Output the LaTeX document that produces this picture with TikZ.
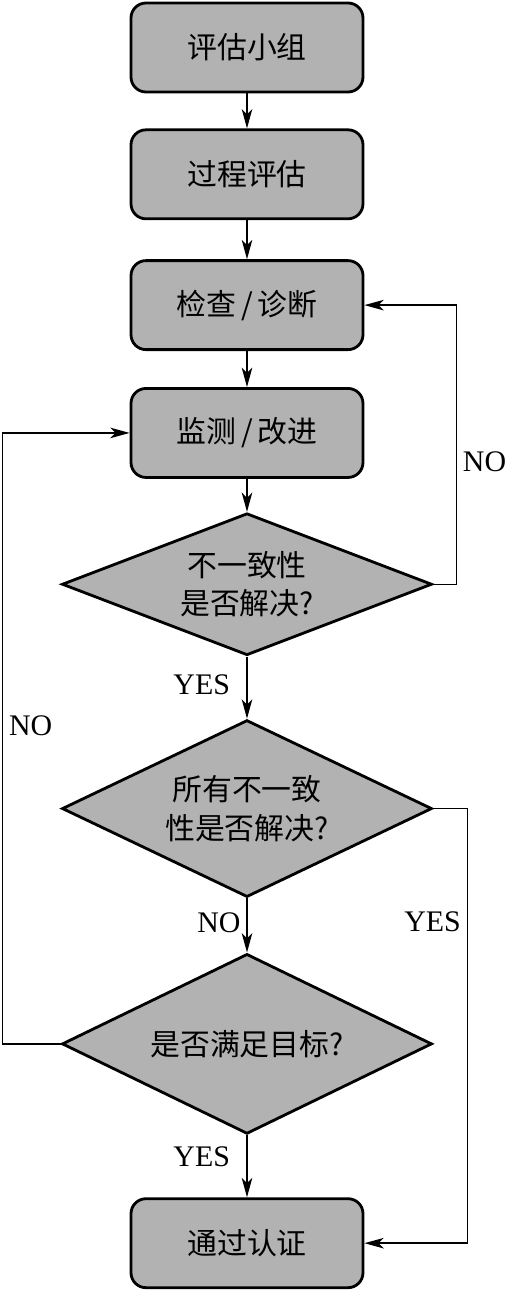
\documentclass[tikz,border=0pt]{standalone}
\usepackage{fontspec}
\setmainfont{Liberation Serif}
\newfontfamily\cjk{Noto Sans CJK SC}
\usepackage{tikz}
\usetikzlibrary{shapes.geometric, arrows.meta, positioning}

\begin{document}
\begin{tikzpicture}[
    node distance = 0.74cm,
    block/.style = {rectangle, draw, line width=1.6pt, fill=black!30, minimum width=4.64cm, minimum height=1.78cm, rounded corners=0.3cm, font=\cjk\fontsize{17}{21}\selectfont},
    decision/.style = {diamond, draw, line width=1.6pt, fill=black!30, inner sep=0pt, minimum width=7.4cm, align=center, font=\cjk\fontsize{17}{22}\selectfont},
    lbl/.style = {font=\fontsize{17}{20}\selectfont},
    arrow/.style = {line width=0.8pt, -{Stealth[length=11pt, width=6pt, inset=3pt]}}
]
    \useasboundingbox (0,0) rectangle (10.16,-26);

    % Nodes
    \node (team) [block] at (4.94,-0.95) {评估小组};
    \node (eval) [block, below=0.7cm of team] {过程评估};
    \node (check) [block, below=0.78cm of eval] {检查\,/\,诊断};
    \node (improve) [block, below=0.72cm of check] {监测\,/\,改进};
    \node (solved) [decision, aspect=2.6, minimum height=2.84cm, below=0.66cm of improve] {不一致性\\是否解决?};
    \node (allsolved) [decision, aspect=2.09, minimum height=3.54cm, below=1.24cm of solved] {所有不一致\\性是否解决?};
    \node (goal) [decision, aspect=2.05, minimum height=3.6cm, below=1.08cm of allsolved] {是否满足目标?};
    \node (pass) [block, below=1.24cm of goal] {通过认证};

    % Arrows
    \draw [arrow] (team) -- (eval);
    \draw [arrow] (eval) -- (check);
    \draw [arrow] (check) -- (improve);
    \draw [arrow] (improve) -- (solved);
    \draw [arrow] (solved) -- node[lbl, left=6pt, pos=0.45] {YES} (allsolved);
    \draw [arrow] (allsolved) -- node[lbl, left, pos=0.45] {NO} (goal);
    \draw [arrow] (goal) -- node[lbl, left=6pt, pos=0.35] {YES} (pass);
    \draw [arrow] (solved.east) -- ++(0.46,0) |- node[lbl, right, pos=0.22] {NO} (check.east);
    \draw [arrow] (goal.west) -- ++(-1.16,0) |- node[lbl, right, pos=0.26] {NO} (improve.west);
    \draw [arrow] (allsolved.east) -- ++(0.68,0) |- node[lbl, left, pos=0.13] {YES} (pass.east);

\end{tikzpicture}
\end{document}
